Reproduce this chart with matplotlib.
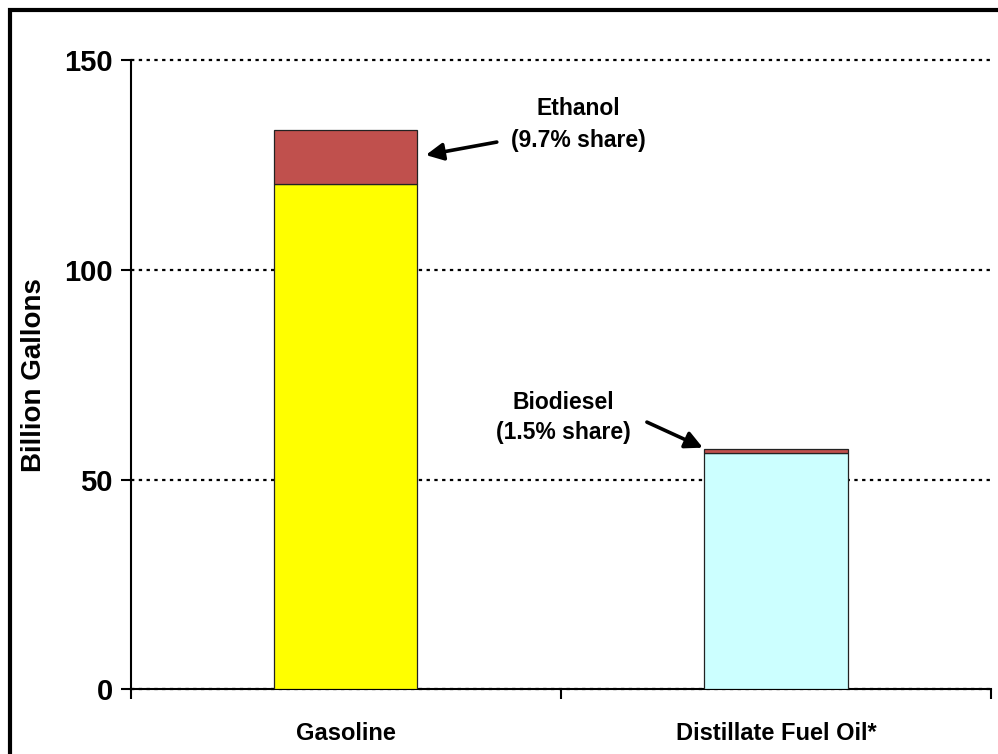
import matplotlib.pyplot as plt
from matplotlib.patches import Rectangle

plt.rcParams['font.family'] = ['Liberation Sans', 'DejaVu Sans']
plt.rcParams['font.weight'] = 'bold'

categories = ['Gasoline', 'Distillate Fuel Oil*']
petroleum = [120.4, 56.4]
biofuel = [12.9, 0.86]
base_colors = ['#ffff00', '#ccffff']
bio_color = '#c0504d'

fig = plt.figure(figsize=(9.98, 7.54), dpi=100)
ax = fig.add_axes([0.131, 0.086, 0.862, 0.834])

x = [0, 1]
ax.bar(x, petroleum, width=0.333, color=base_colors, edgecolor='#222222', linewidth=0.9, zorder=3)
ax.bar(x, biofuel, bottom=petroleum, width=0.333, color=bio_color, edgecolor='#222222', linewidth=0.9, zorder=3)

ax.set_xlim(-0.5, 1.5)
ax.set_ylim(0, 150)
ax.set_yticks([0, 50, 100, 150])
ax.set_xticks([-0.5, 0.5, 1.5], minor=False)
ax.set_xticklabels([])
ax.set_xticks(x, minor=True)
ax.set_xticklabels(categories, minor=True, fontsize=17, fontweight='bold')
ax.tick_params(axis='x', which='minor', length=0, pad=24)
ax.tick_params(axis='x', which='major', length=7, width=1.5, direction='out')
ax.tick_params(axis='y', length=7, width=1.5, labelsize=21, pad=6)
for lab in ax.get_yticklabels():
    lab.set_fontweight('bold')

ax.grid(axis='y', linestyle=(0, (1.5, 2)), color='black', linewidth=1.6, zorder=0)
for gl in ax.get_ygridlines():
    gl.set_clip_on(False)
ax.spines['top'].set_visible(False)
ax.spines['right'].set_visible(False)
ax.spines['left'].set_linewidth(1.5)
ax.spines['bottom'].set_linewidth(1.5)
ax.set_ylabel('Billion Gallons', fontsize=20, fontweight='bold', labelpad=12)

# labels for the blend components
ax.text(0.54, 138.6, 'Ethanol', ha='center', va='center', fontsize=16.5, fontweight='bold')
ax.text(0.54, 130.9, '(9.7% share)', ha='center', va='center', fontsize=16.5, fontweight='bold')
ax.text(0.505, 68.4, 'Biodiesel', ha='center', va='center', fontsize=16.5, fontweight='bold')
ax.text(0.505, 61.3, '(1.5% share)', ha='center', va='center', fontsize=16.5, fontweight='bold')

arrow = dict(arrowstyle='-|>', color='black', lw=2.6, mutation_scale=26, shrinkA=0, shrinkB=0)
ax.annotate('', xy=(0.186, 127.4), xytext=(0.351, 130.5), arrowprops=arrow)
ax.annotate('', xy=(0.83, 57.6), xytext=(0.70, 63.7), arrowprops=arrow)

fig.patches.append(Rectangle((10 / 998, -0.1), 1.2, 1 - 10 / 754 + 0.1,
                             transform=fig.transFigure, fill=False,
                             edgecolor='black', linewidth=3))

fig.savefig('out.png', dpi=100)
